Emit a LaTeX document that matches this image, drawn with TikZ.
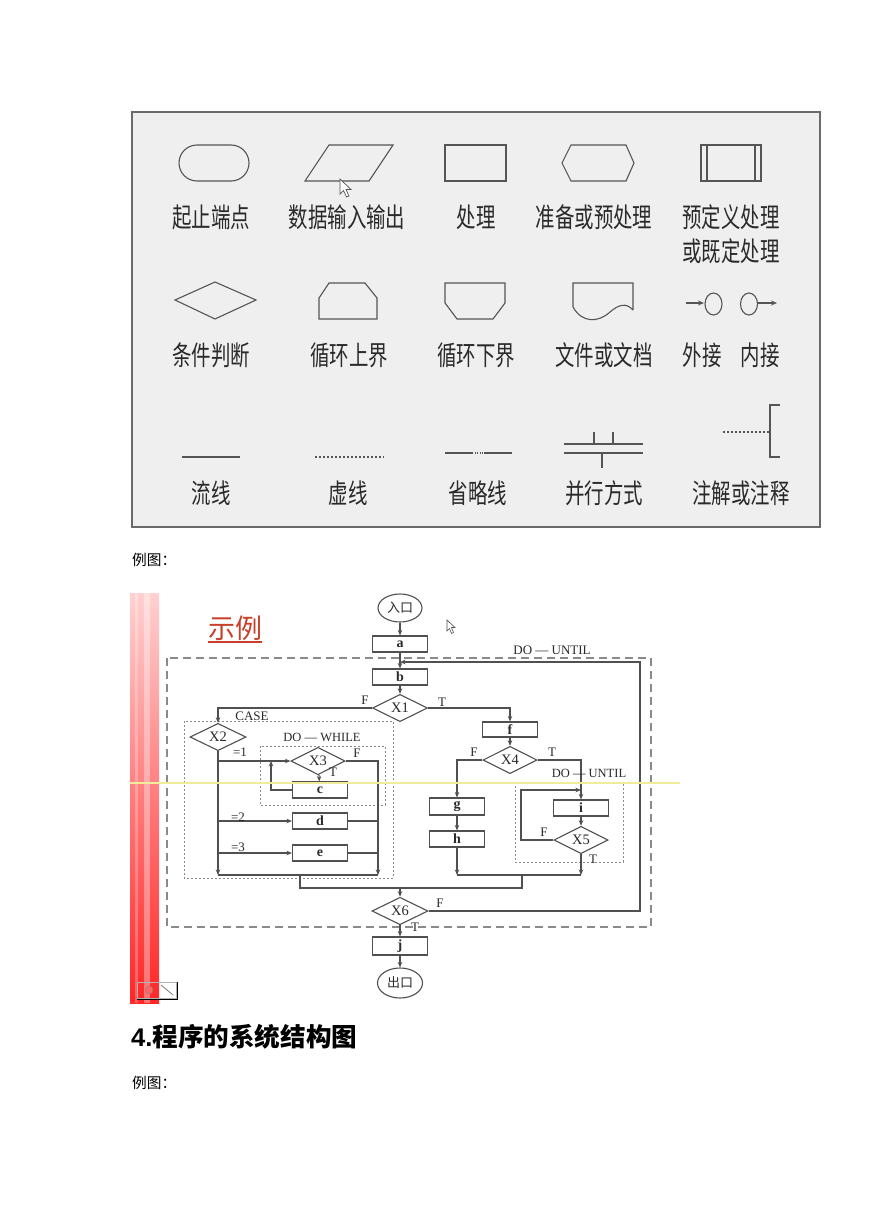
\documentclass[tikz,border=0pt]{standalone}
\usepackage{fontspec}
\usepackage{graphicx}
\setmainfont{Liberation Serif}
\newfontfamily\cjk{Noto Sans CJK SC}
\newfontfamily\arialf{Liberation Sans}
\usetikzlibrary{arrows.meta,shapes.geometric}
\definecolor{panel}{HTML}{EFEFEF}
\definecolor{panelborder}{HTML}{6A6A6A}
\definecolor{lgline}{HTML}{555555}
\definecolor{lgtext}{HTML}{2A2A2A}
\definecolor{flline}{HTML}{505050}
\definecolor{fltext}{HTML}{2A2A2A}
\definecolor{dashc}{HTML}{8A8A8A}
\definecolor{redtitle}{HTML}{C8402A}
\definecolor{yline}{HTML}{F0EC9A}
\newcommand{\lgs}[1]{\scalebox{0.72}[1]{#1}}
\tikzset{
  lg/.style={draw=lgline, line width=1.1pt},
  lgt/.style={font=\cjk\fontsize{27}{27}\selectfont, text=lgtext, inner sep=0pt},
  fl/.style={draw=flline, line width=1.1pt},
  arr/.style={fl, -{Stealth[length=5.5pt,width=4.5pt]}},
  fbox/.style={draw=flline, line width=1.1pt, minimum width=55pt, minimum height=16pt, inner sep=0pt, font=\fontsize{14}{14}\selectfont\bfseries, text=fltext},
  fdia/.style={diamond, draw=flline, line width=1.1pt, minimum width=55pt, minimum height=20pt, inner sep=0pt, font=\fontsize{14.5}{14.5}\selectfont, text=fltext},
  fell/.style={ellipse, draw=flline, line width=1.1pt, minimum width=44pt, minimum height=28pt, inner sep=0pt, font=\cjk\fontsize{13}{13}\selectfont, text=fltext},
  lab/.style={font=\fontsize{13}{13}\selectfont, inner sep=0pt, text=fltext},
  dashbox/.style={draw=dashc, line width=1.2pt, dash pattern=on 8pt off 5pt},
  dotbox/.style={draw=dashc, line width=1pt, dash pattern=on 2pt off 2pt},
}
\begin{document}
\begin{tikzpicture}[x=1pt,y=-1pt]
\useasboundingbox (0,0) rectangle (869,1228);
\fill[white] (0,0) rectangle (869,1228);

% ===== legend panel =====
\filldraw[fill=panel, draw=panelborder, line width=1.5pt] (132,112) rectangle (820,527);

% row 1 shapes
\draw[lg, rounded corners=18pt] (179,145) rectangle (249,181);
\draw[lg] (305,181) -- (329,145) -- (393,145) -- (369,181) -- cycle;
\draw[lg] (445,145) rectangle (506,181);
\draw[lg] (562,163) -- (571,145) -- (626,145) -- (634,163) -- (626,181) -- (571,181) -- cycle;
\draw[lg] (701,145) rectangle (761,181);
\draw[lg] (707,145) -- (707,181);
\draw[lg] (755,145) -- (755,181);
% cursor
\filldraw[fill=white, draw=lgline, line width=0.7pt] (340,179) -- (340,194) -- (343.5,190.5) -- (346.5,197) -- (349,196) -- (346,189.5) -- (351,189.5) -- cycle;

% row 1 texts
\node[lgt] (t1) at (211,217) {\lgs{起止端点}};
\node[lgt] (t2) at (347,217) {\lgs{数据输入输出}};
\node[lgt] (t3) at (476,217) {\lgs{处理}};
\node[lgt] (t4) at (594,217) {\lgs{准备或预处理}};
\node[lgt] (t5) at (731,217) {\lgs{预定义处理}};
\node[lgt] (t5b) at (731,251) {\lgs{或既定处理}};

% row 2 shapes
\draw[lg] (175,300) -- (215,282) -- (256,300) -- (215,319) -- cycle;
\draw[lg] (319,319) -- (319,298) -- (329,283) -- (365,283) -- (377,298) -- (377,319) -- cycle;
\draw[lg] (445,283) -- (505,283) -- (505,303) -- (493,319) -- (457,319) -- (445,303) -- cycle;
\draw[lg] (633,310) -- (633,283) -- (573,283) -- (573,307) .. controls (582,323) and (598,323) .. (610,312) .. controls (618,305) and (626,302) .. (633,310);
\draw[lg, -{Stealth[length=6pt,width=5pt]}] (686,303) -- (704,303);
\draw[lg] (713.5,304) ellipse [x radius=8.5pt, y radius=11pt];
\draw[lg] (749,304) ellipse [x radius=8.5pt, y radius=11pt];
\draw[lg, -{Stealth[length=6pt,width=5pt]}] (757.5,303) -- (777,303);

% row 2 texts
\node[lgt] (t6) at (211,355) {\lgs{条件判断}};
\node[lgt] (t7) at (349,355) {\lgs{循环上界}};
\node[lgt] (t8) at (476,355) {\lgs{循环下界}};
\node[lgt] (t9) at (604,355) {\lgs{文件或文档}};
\node[lgt] (t10) at (702,355) {\lgs{外接}};
\node[lgt] (t11) at (760,355) {\lgs{内接}};

% row 3 shapes
\draw[lg] (182,457) -- (240,457);
\draw[lg, dash pattern=on 2pt off 2pt] (315,457) -- (384,457);
\draw[lg] (445,453) -- (472,453);
\draw[lg, dash pattern=on 1pt off 1.5pt] (472,453) -- (484,453);
\draw[lg] (484,453) -- (512,453);
\draw[lg] (564,444) -- (643,444);
\draw[lg] (564,453) -- (643,453);
\draw[lg] (594,432) -- (594,444);
\draw[lg] (613,432) -- (613,444);
\draw[lg] (602,453) -- (602,468);
\draw[lg, dash pattern=on 2pt off 2pt] (723,432) -- (770,432);
\draw[lg] (780,405) -- (770,405) -- (770,457) -- (780,457);

% row 3 texts
\node[lgt] (t12) at (211,493) {\lgs{流线}};
\node[lgt] (t13) at (348,493) {\lgs{虚线}};
\node[lgt] (t14) at (478,493) {\lgs{省略线}};
\node[lgt] (t15) at (604,493) {\lgs{并行方式}};
\node[lgt] (t16) at (741,493) {\lgs{注解或注释}};

% ===== caption =====
\node[anchor=west, inner sep=0pt, font=\cjk\fontsize{14.7}{15}\selectfont, text=black] (ex1) at (132,560) {例图：};

% ===== flowchart image =====
\shade[top color=red!18, bottom color=red!85] (130,593) rectangle (159,1003);
\fill[white, opacity=0.35] (144,593) rectangle (150,1003);
\fill[white, opacity=0.25] (135,593) rectangle (138,1003);
% icon bottom-left
\draw[gray!60, line width=0.8pt] (137,982) rectangle (176,998);
\draw[black, line width=1.2pt] (137,999.5) -- (177.5,999.5) -- (177.5,982);
\filldraw[fill=red!60, draw=gray] (149,990) circle (4pt);
\draw[gray, line width=0.8pt] (161,985) -- (173,995);

% title
\node[inner sep=0pt, font=\cjk\fontsize{27}{27}\selectfont, text=redtitle] (sl) at (235,628) {示例};
\draw[redtitle, line width=1.2pt] (208,642) -- (262,642);

% mouse cursor
\filldraw[fill=white, draw=flline, line width=0.6pt] (447,620) -- (447,631) -- (449.5,628.5) -- (451.5,633.5) -- (453.5,632.5) -- (451.5,627.5) -- (455,627.5) -- cycle;

% dashed / dotted boxes
\draw[dashbox] (167,658) rectangle (651,927);
\draw[dotbox] (184,721) rectangle (393,878);
\draw[dotbox] (260,746) rectangle (385,805);
\draw[dotbox] (515,782) rectangle (623,862);

% nodes
\node[fell] (in) at (400,608) {入口};
\node[fbox] (a) at (400,644) {a};
\node[fbox] (b) at (400,677) {b};
\node[fdia] (X1) at (400,708) {X1};
\node[fdia, minimum width=56pt, minimum height=19pt] (X2) at (218,737) {X2};
\node[fdia, minimum width=54pt, minimum height=17pt] (X3) at (318,761) {X3};
\node[fbox] (c) at (320,790) {c};
\node[fbox] (d) at (320,821) {d};
\node[fbox] (e) at (320,853) {e};
\node[fbox, minimum height=15pt] (f) at (510,729.5) {f};
\node[fdia, minimum width=54pt, minimum height=18pt] (X4) at (510,760) {X4};
\node[fbox, minimum height=17pt] (g) at (457,806.5) {g};
\node[fbox] (h) at (457,839) {h};
\node[fbox] (i) at (581,808) {i};
\node[fdia, minimum width=54pt] (X5) at (581,840) {X5};
\node[fdia, minimum width=56pt, minimum height=22pt] (X6) at (400,911) {X6};
\node[fbox, minimum height=18pt] (j) at (400,946) {j};
\node[fell, minimum width=45pt, minimum height=30pt] (out) at (400,983) {出口};

% coordinates
\coordinate (lb) at (400,662);
\coordinate (rt) at (640,662);
\coordinate (lv) at (218,875);
\coordinate (rv) at (378,875);
\coordinate (cl) at (271,790);
\coordinate (cu) at (271,761);
\coordinate (ghb) at (457,875);
\coordinate (x5b) at (581,875);
\coordinate (x5l) at (521,790);
\coordinate (il) at (581,790);
\coordinate (m1) at (300,875);
\coordinate (m2) at (522,875);
\coordinate (mj) at (400,888);

% connectors
\draw[arr] (in) -- (a);
\draw[arr] (a) -- (b);
\draw[arr] (b) -- (X1);
\draw[arr] (X1.west) -| (X2.north);
\draw[arr] (X1.east) -| (f.north);
\draw[arr] (f) -- (X4);
\draw[arr] (X4.west) -| (g.north);
\draw[arr] (g) -- (h);
\draw[arr] (h) -- (ghb);
\draw[arr] (X4.east) -| (i.north);
\draw[arr] (i) -- (X5);
\draw[arr] (X5.west) -| (x5l) -- (il);
\draw[arr] (X5) -- (x5b);
\draw[fl] (ghb) -- (x5b);
\draw[fl] (m2) |- (mj);

\draw[arr] (X2) -- (lv);
\draw[arr] (X2.south |- X3) -- (X3.west);
\draw[arr] (X2.south |- d) -- (d.west);
\draw[arr] (X2.south |- e) -- (e.west);
\draw[arr] (X3.east) -| (rv);
\draw[fl] (d.east) -- (d.east -| rv);
\draw[fl] (e.east) -- (e.east -| rv);
\draw[arr] (X3) -- (c);
\draw[arr] (c.west) -- (cl) -- (cu);
\draw[fl] (lv) -- (rv);
\draw[fl] (m1) |- (mj);
\draw[arr] (mj) -- (X6.north);

\draw[arr] (X6.east) -| (rt) -- (lb);
\draw[arr] (X6) -- (j);
\draw[arr] (j) -- (out);

% labels
\node[lab] (lF1) at (365,700) {F};
\node[lab] (lT1) at (442,702) {T};
\node[lab] (lcase) at (252,716) {CASE};
\node[lab, font=\fontsize{12.5}{12.5}\selectfont] (ldw) at (322,737) {DO — WHILE};
\node[lab] (l1) at (240,752) {=1};
\node[lab] (lF3) at (357,753) {F};
\node[lab] (lT3) at (333,772) {T};
\node[lab] (l2) at (238,817) {=2};
\node[lab] (l3) at (238,847) {=3};
\node[lab] (lF4) at (474,752) {F};
\node[lab] (lT4) at (552,752) {T};
\node[lab, font=\fontsize{12.5}{12.5}\selectfont] (ldu2) at (589,773) {DO — UNTIL};
\node[lab] (lF5) at (544,832) {F};
\node[lab] (lT5) at (593,859) {T};
\node[lab] (lF6) at (440,903) {F};
\node[lab] (lT6) at (415,927) {T};
\node[lab, font=\fontsize{13}{13}\selectfont] (ldu1) at (552,650) {DO — UNTIL};

% yellow line artifact
\draw[yline, line width=1.5pt] (130,783) -- (680,783);

% ===== heading =====
\node[anchor=west, inner sep=0pt, text=black] (h4) at (131,1037) {\arialf\bfseries\fontsize{25.6}{26}\selectfont 4.\cjk\bfseries 程序的系统结构图};
\node[anchor=west, inner sep=0pt, font=\cjk\fontsize{14.7}{15}\selectfont, text=black] (ex2) at (132,1083) {例图：};
\end{tikzpicture}
\end{document}
